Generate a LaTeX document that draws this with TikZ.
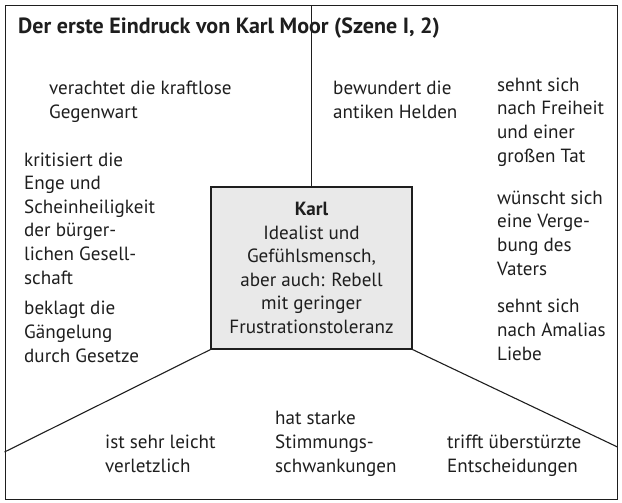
\documentclass[tikz,border=0pt]{standalone}
\usepackage{fontspec}
\setmainfont{PT Sans}
\usetikzlibrary{positioning,calc}
\usepackage{xcolor}
\definecolor{Ink}{RGB}{30,30,30}
\definecolor{BoxBg}{RGB}{233,233,233}
\tikzset{
  txt/.style={anchor=base west,align=left,inner sep=0pt,text=Ink,
              font=\fontsize{19.1}{23.6}\selectfont},
  ttl/.style={txt,font=\fontsize{22}{24}\selectfont\bfseries},
  rahmen/.style={draw=Ink,line width=1pt,minimum width=612pt,minimum height=493pt,
                 inner sep=0pt},
  kbox/.style={rectangle,draw=Ink,fill=BoxBg,line width=1.1pt,align=center,text=Ink,
               minimum width=201pt,minimum height=162pt,inner sep=0pt,
               font=\fontsize{19.1}{23.6}\selectfont},
  trenn/.style={Ink,line width=1.1pt},
}

\begin{document}
\begin{tikzpicture}[x=1pt,y=-1pt]
  \useasboundingbox (0,0) rectangle (622,503);
  \node[rahmen] (rahmen) at (311,252.5) {};
  \node[kbox] (karl) at (311.5,268) {\textbf{Karl}\\Idealist und\\Gefühlsmensch,\\aber auch: Rebell\\mit geringer\\Frustrationstoleranz};
  %
  \coordinate (lu) at (rahmen.west |- 0,452);
  \coordinate (ru) at (rahmen.east |- 0,447);
  \draw[trenn] (karl.north) -- (karl.north |- rahmen.north);
  \draw[trenn] (karl.south west) -- (lu);
  \draw[trenn] (karl.south east) -- (ru);
  %
  % base = Grundlinie der letzten Zeile
  \node[ttl] (titel) at (18,34) {Der erste Eindruck von Karl Moor (Szene I, 2)};
  \node[txt] (gegenwart) at (49,118) {verachtet die kraftlose\\Gegenwart};
  \node[txt] (enge) at (24,284) {kritisiert die\\Enge und\\Scheinheiligkeit\\der bürger-\\lichen Gesell-\\schaft};
  \node[txt] (gesetze) at (24,362) {beklagt die\\Gängelung\\durch Gesetze};
  \node[txt] (helden) at (333,118) {bewundert die\\antiken Helden};
  \node[txt] (freiheit) at (497,162) {sehnt sich\\nach Freiheit\\und einer\\großen Tat};
  \node[txt] (vater) at (497,275) {wünscht sich\\eine Verge-\\bung des\\Vaters};
  \node[txt] (amalia) at (497,360) {sehnt sich\\nach Amalias\\Liebe};
  \node[txt] (verletzt) at (105,472) {ist sehr leicht\\verletzlich};
  \node[txt] (stimmung) at (275,472) {hat starke\\Stimmungs-\\schwankungen};
  \node[txt] (entsch) at (447,472) {trifft überstürzte\\Entscheidungen};
\end{tikzpicture}
\end{document}
